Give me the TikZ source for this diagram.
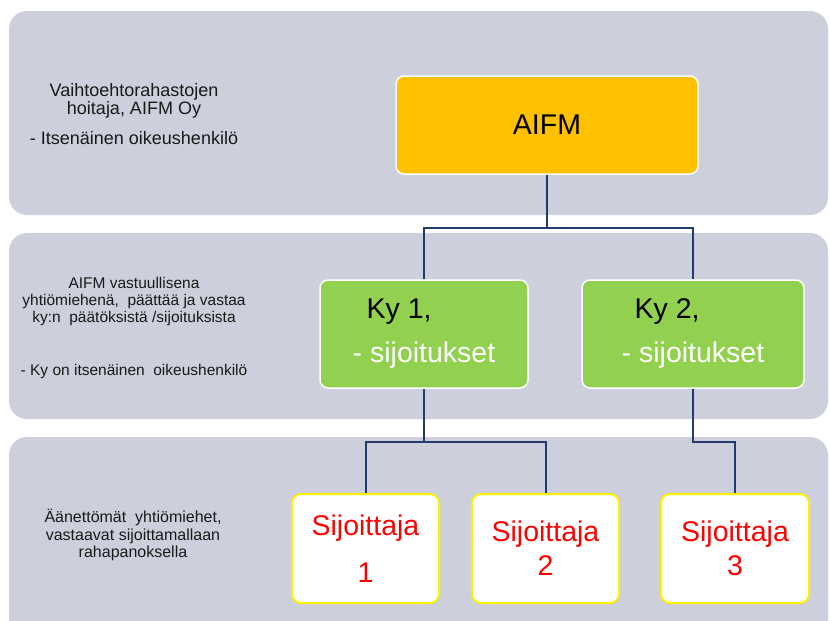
\documentclass[tikz,border=0pt]{standalone}
\usepackage{fontspec}
\setmainfont{Liberation Sans}
\usepackage{tikz}

\definecolor{bandgray}{RGB}{205,208,220}
\definecolor{aifmorange}{RGB}{255,192,0}
\definecolor{kygreen}{RGB}{146,208,80}
\definecolor{linknavy}{RGB}{36,58,108}

\begin{document}
\begin{tikzpicture}[x=1pt, y=-1pt]
                \tikzset{
                    band/.style={fill=bandgray, rounded corners=18pt},
                    notetext/.style={align=center, text=black!90, inner sep=0pt},
                    aifmbox/.style={draw=white, line width=1.5pt, fill=aifmorange, rounded corners=8pt, font=\fontsize{28.5}{34}\selectfont},
                    kybox/.style={draw=white, line width=1.5pt, fill=kygreen, rounded corners=8pt, minimum height=108pt, align=left, font=\fontsize{28.5}{44}\selectfont},
                    sijbox/.style={draw=yellow, line width=2pt, fill=white, rounded corners=9pt, minimum height=109pt, align=center, text=red, font=\fontsize{28.5}{34}\selectfont},
                    link/.style={draw=linknavy, line width=2pt}
                }

                \useasboundingbox (0,0) rectangle (830,621);
                \clip (0,0) rectangle (830,621);

                % background bands
                \fill[band] (9,11) rectangle (828,215);
                \fill[band] (9,233) rectangle (828,419);
                \fill[band] (9,437) rectangle (828,660);

                % notes on the left
                \node[notetext, font=\fontsize{18}{18}\selectfont] (note1) at (134,114.5) {Vaihtoehtorahastojen\\hoitaja, AIFM Oy\\[12pt]- Itsenäinen oikeushenkilö};
                \node[notetext, font=\fontsize{15.5}{17}\selectfont] (note2) at (134,328) {AIFM vastuullisena\\yhtiömiehenä,~ päättää ja vastaa\\ky:n~ päätöksistä /sijoituksista\\[36pt]- Ky on itsenäinen~ oikeushenkilö};
                \node[notetext, font=\fontsize{16}{17.5}\selectfont] (note3) at (133,535) {Äänettömät~ yhtiömiehet,\\vastaavat sijoittamallaan\\rahapanoksella};

                % organisation chart
                \node[aifmbox, minimum width=302pt, minimum height=98pt] (aifm) at (547,125) {AIFM};

                \node[kybox, minimum width=208pt] (ky1) at (424,334) {\hspace*{14pt}Ky 1,\\\textcolor{white}{- sijoitukset}};
                \node[kybox, minimum width=222pt] (ky2) at (693,334) {\hspace*{13pt}Ky 2,\\\textcolor{white}{- sijoitukset}};

                \node[sijbox, minimum width=147pt] (sij1) at (365.5,548.5) {Sijoittaja\\[13pt]1};
                \node[sijbox, minimum width=147pt] (sij2) at (545.5,548.5) {Sijoittaja\\2};
                \node[sijbox, minimum width=148pt] (sij3) at (735,548.5) {Sijoittaja\\3};

                \coordinate (split1) at (0,228);
                \coordinate (split2) at (0,442);

                \draw[link] (aifm.south) -- (aifm.south |- split1) -| (ky1.north);
                \draw[link] (aifm.south |- split1) -| (ky2.north);
                \draw[link] (ky1.south) -- (ky1.south |- split2) -| (sij1.north);
                \draw[link] (ky1.south |- split2) -| (sij2.north);
                \draw[link] (ky2.south) -- (ky2.south |- split2) -| (sij3.north);
            \end{tikzpicture}
\end{document}
